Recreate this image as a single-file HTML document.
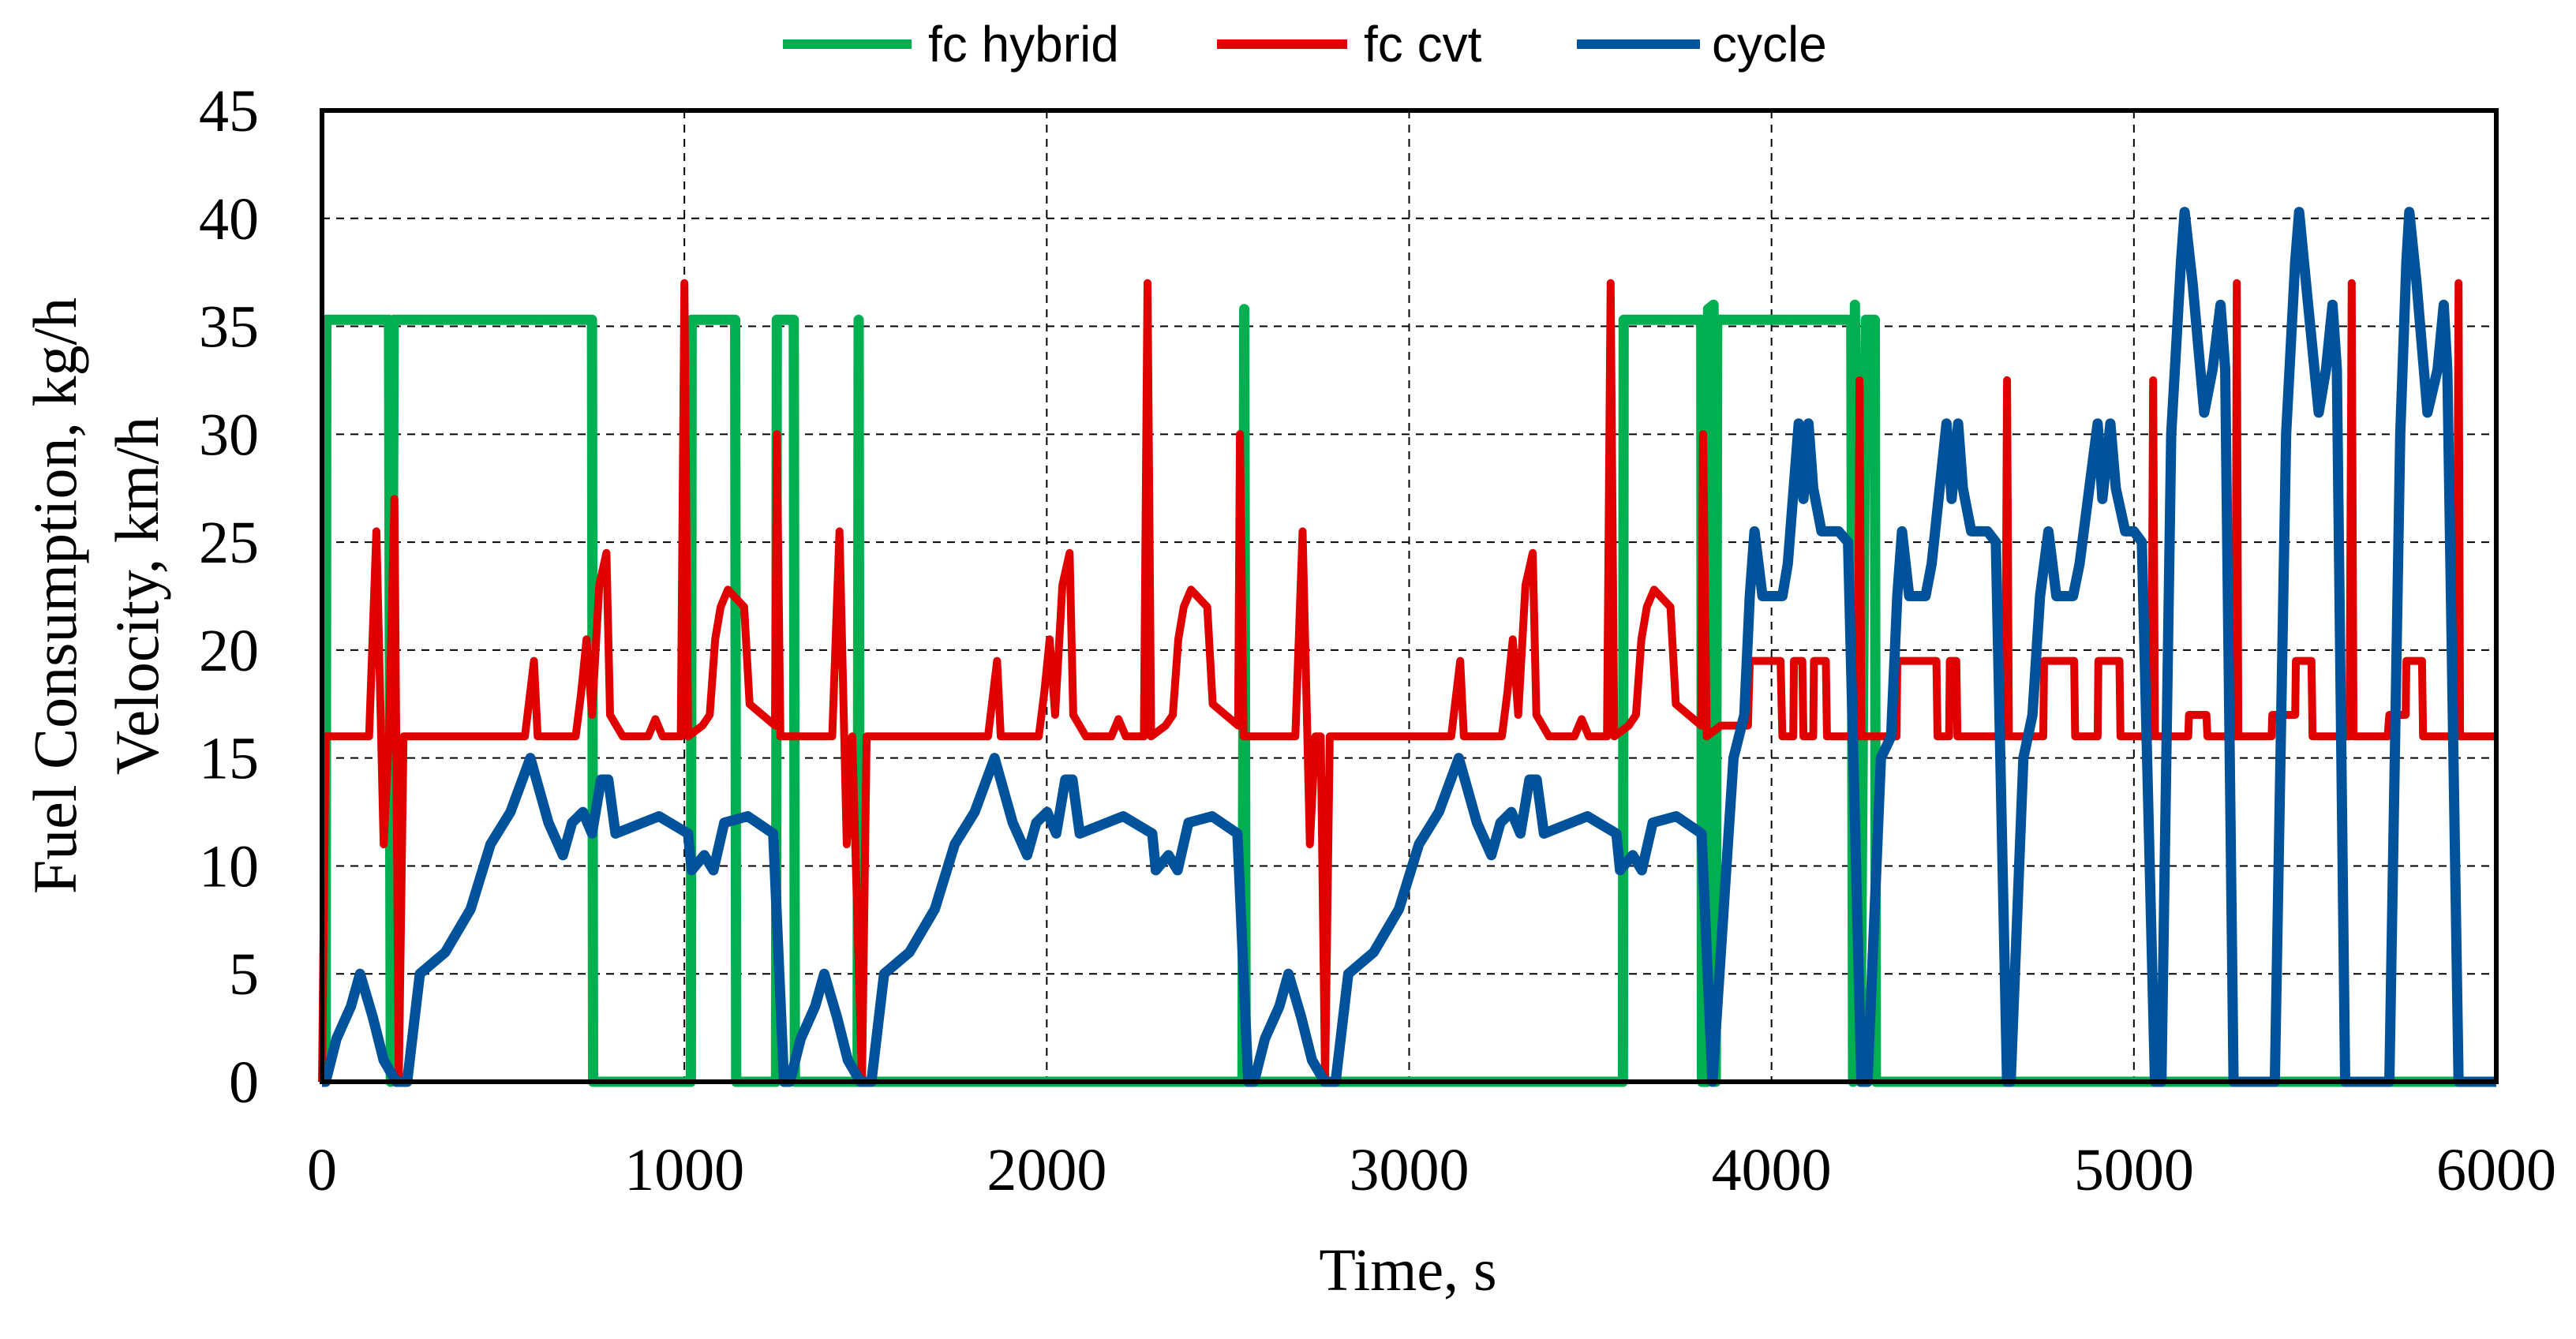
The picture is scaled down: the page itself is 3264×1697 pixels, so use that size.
<!DOCTYPE html>
<html><head><meta charset="utf-8"><style>
html,body{margin:0;padding:0;background:#fff;}
svg{display:block;}
</style></head><body>
<svg id="chart" width="3264" height="1697" viewBox="0 0 3264 1697" xmlns="http://www.w3.org/2000/svg">
<rect x="0" y="0" width="3264" height="1697" fill="#fff"/>
<g id="grid"></g>
<g id="series"></g>
<rect x="408" y="140" width="2755" height="1231" fill="none" stroke="#000" stroke-width="6"/>
<g id="ticks" font-family="Liberation Serif, serif" font-size="76" fill="#000"></g>
<text x="1784" y="1635" font-family="Liberation Serif, serif" font-size="76" text-anchor="middle">Time, s</text>
<g font-family="Liberation Serif, serif" font-size="78" text-anchor="middle">
<text transform="translate(96,755) rotate(-90)">Fuel Consumption, kg/h</text>
<text transform="translate(200,755) rotate(-90)">Velocity, km/h</text>
</g>
<g font-family="Liberation Sans, sans-serif" font-size="64">
<g><line x1="992" y1="56" x2="1155" y2="56" stroke="#00b050" stroke-width="12"/><text x="1176" y="78">fc hybrid</text></g>
<g><line x1="1542" y1="56" x2="1707" y2="56" stroke="#e00000" stroke-width="12"/><text x="1728" y="78">fc cvt</text></g>
<g><line x1="1998" y1="56" x2="2154" y2="56" stroke="#00529b" stroke-width="12"/><text x="2169" y="78">cycle</text></g>
</g>
</svg>
<script>
const xTicks=[0,1000,2000,3000,4000,5000,6000];
const yTicks=[0,5,10,15,20,25,30,35,40,45];
const hybridT=[0,10,12,185,190,198,745,748,1018,1020,1140,1143,1253,1255,1302,1305,1478,1481,1484,2540,2545,2549,3590,3592,3806,3808,3822,3825,3840,3846,3850,4220,4225,4230,4245,4260,4285,4288,6000];
const hybridV=[0,0,35.3,35.3,0,35.3,35.3,0,0,35.3,35.3,0,0,35.3,35.3,0,0,35.3,0,0,35.8,0,0,35.3,35.3,0,0,35.8,36,0,35.3,35.3,0,36,0,35.3,35.3,0,0];
const cvtT=[0,10,130,150,170,185,200,212,225,560,585,595,700,715,730,745,765,785,795,830,900,920,940,990,1000,1010,1050,1070,1085,1100,1120,1165,1180,1250,1255,1265,
1408,1428,1448,1463,1490,1503,1838,1863,1873,1978,1993,2008,2023,2043,2063,2073,2108,2178,2198,2218,2268,2278,2288,2328,2348,2363,2378,2398,2443,2458,2528,2533,2543,
2686,2706,2726,2741,2756,2768,2781,3116,3141,3151,3256,3271,3286,3301,3321,3341,3351,3386,3456,3476,3496,3546,3556,3566,3606,3626,3641,3656,3676,3721,3736,3806,3811,3821,
3860,3935,3940,4025,4030,4060,4062,4085,4088,4115,4117,4150,4153,4238,4243,4248,4345,4347,4455,4458,4490,4492,4510,4513,4645,4650,4655,4750,4752,4835,4838,4900,4902,4960,4963,5048,5053,5058,5150,5152,5200,5203,5280,5284,5288,5380,5382,5445,5447,5490,5493,5595,5601,5606,5700,5705,5750,5752,5795,5798,5890,5896,5900,6000];
const cvtV=[0,16,16,25.5,11,16,27,0,16,16,19.5,16,16,18,20.5,17,23,24.5,17,16,16,16.8,16,16,37,16,16.5,17,20.5,22,22.8,22,17.5,16.5,30,16,
16,25.5,11,16,0,16,16,19.5,16,16,18,20.5,17,23,24.5,17,16,16,16.8,16,16,37,16,16.5,17,20.5,22,22.8,22,17.5,16.5,30,16,
16,25.5,11,16,16,0,16,16,19.5,16,16,18,20.5,17,23,24.5,17,16,16,16.8,16,16,37,16,16.5,17,20.5,22,22.8,22,17.5,16.5,30,16,
16.5,16.5,19.5,19.5,16,16,19.5,19.5,16,16,19.5,19.5,16,16,32.5,16,16,19.5,19.5,16,16,19.5,19.5,16,16,32.5,16,16,19.5,19.5,16,16,19.5,19.5,16,16,32.5,16,16,17,17,16,16,37,16,16,17,17,19.5,19.5,16,16,37,16,16,17,17,19.5,19.5,16,16,37,16,16];
const cycleT=[0,10,40,80,105,140,170,205,235,270,340,410,465,520,575,625,665,690,720,745,770,790,810,930,1010,1020,1055,1080,1110,1175,1245,1275,
1291,1321,1361,1386,1421,1451,1486,1516,1551,1621,1691,1746,1801,1856,1906,1946,1971,2001,2026,2051,2071,2091,2211,2291,2301,2336,2361,2391,2456,2526,2556,
2572,2602,2642,2667,2702,2732,2767,2797,2832,2902,2972,3027,3082,3137,3187,3227,3252,3282,3307,3332,3352,3372,3492,3572,3582,3617,3642,3672,3737,3807,3837,
3895,3925,3940,3953,3975,4030,4045,4075,4088,4102,4115,4138,4185,4211,4248,4265,4302,4330,4347,4360,4380,4425,4442,4483,4497,4515,4528,4551,4596,4619,4650,4660,4695,4720,4741,4764,4786,4832,4850,4900,4913,4935,4950,4976,5000,5022,5058,5076,5103,5130,5140,5162,5194,5217,5239,5252,5275,5389,5420,5445,5456,5475,5510,5530,5548,5560,5583,5705,5735,5752,5760,5780,5810,5838,5855,5865,5896,6000];
const cycleV=[0,0,2,3.5,5,3,1,0,0,5,6,8,11,12.5,15,12,10.5,12,12.5,11.5,14,14,11.5,12.3,11.5,9.8,10.5,9.8,12,12.3,11.5,0,
0,2,3.5,5,3,1,0,0,5,6,8,11,12.5,15,12,10.5,12,12.5,11.5,14,14,11.5,12.3,11.5,9.8,10.5,9.8,12,12.3,11.5,0,
0,2,3.5,5,3,1,0,0,5,6,8,11,12.5,15,12,10.5,12,12.5,11.5,14,14,11.5,12.3,11.5,9.8,10.5,9.8,12,12.3,11.5,0,
15,17,22.5,25.5,22.5,22.5,24,30.5,27,30.5,27.5,25.5,25.5,25,0,0,15,16,22.5,25.5,22.5,22.5,24,30.5,27,30.5,27.5,25.5,25.5,25,0,0,15,17,22.5,25.5,22.5,22.5,24,30.5,27,30.5,27.5,25.5,25.5,25,0,0,30,38,40.3,37,31,33,36,33,0,0,30,38,40.3,37,31,33,36,33,0,0,30,38,40.3,37,31,33,36,33,0,0];

const L=408,R=3163,T=140,B=1371;
const xs=t=>L+(t/6000)*(R-L);
const ys=v=>B-(v/45)*(B-T);
const NS='http://www.w3.org/2000/svg';
const grid=document.getElementById('grid'),ticks=document.getElementById('ticks'),series=document.getElementById('series');
xTicks.forEach(t=>{
  if(t>0&&t<6000){const l=document.createElementNS(NS,'line');
  
  
  l.setAttribute('x1',xs(t));l.setAttribute('x2',xs(t));l.setAttribute('y1',T);l.setAttribute('y2',B);
  l.setAttribute('stroke','#000');l.setAttribute('stroke-width','2');l.setAttribute('stroke-dasharray','10 8');grid.appendChild(l);}
  const tx=document.createElementNS(NS,'text');
  
  
  tx.setAttribute('x',xs(t));tx.setAttribute('y',1508);tx.setAttribute('text-anchor','middle');tx.textContent=t;ticks.appendChild(tx);
});
yTicks.forEach(v=>{
  if(v>0&&v<45){const l=document.createElementNS(NS,'line');
  
  
  l.setAttribute('x1',L);l.setAttribute('x2',R);l.setAttribute('y1',ys(v));l.setAttribute('y2',ys(v));
  l.setAttribute('stroke','#000');l.setAttribute('stroke-width','2');l.setAttribute('stroke-dasharray','10 8');grid.appendChild(l);}
  const tx=document.createElementNS(NS,'text');
  
  
  tx.setAttribute('x',328);tx.setAttribute('y',ys(v)+26);tx.setAttribute('text-anchor','end');tx.textContent=v;ticks.appendChild(tx);
});
function draw(tArr,vArr,color,w,name){
  const p=document.createElementNS(NS,'path');
  
  
  let d='';for(let i=0;i<tArr.length;i++){d+=(i?'L':'M')+xs(tArr[i]).toFixed(1)+','+ys(vArr[i]).toFixed(1);}
  p.setAttribute('d',d);p.setAttribute('fill','none');p.setAttribute('stroke',color);p.setAttribute('stroke-width',w);
  p.setAttribute('stroke-linejoin','round');series.appendChild(p);
}
draw(hybridT,hybridV,'#00b050',13,'fc-hybrid-line');
draw(cvtT,cvtV,'#e00000',10,'fc-cvt-line');
draw(cycleT,cycleV,'#00529b',13,'cycle-line');
</script>
</body></html>
